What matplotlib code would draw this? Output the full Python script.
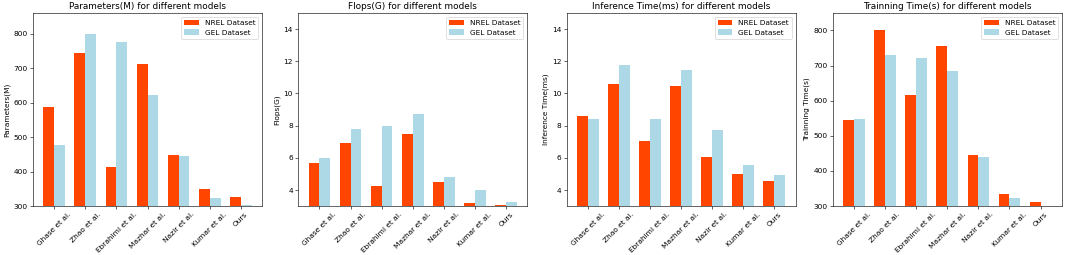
import numpy as np
import matplotlib
matplotlib.use('Agg')
import matplotlib.pyplot as plt

# 模型名稱
models = ['Ghase et al.', 'Zhao et al.', 'Ebrahimi et al.', 'Mazhar et al.',
          'Nazir et al.', 'Kumar et al.', 'Ours']

# 各指標數值 (NREL / GEL)
params_nrel = [587, 745, 414, 713, 447, 350, 325]
params_gel = [478, 798, 775, 622, 444, 322, 303]
flops_nrel = [5.69, 6.94, 4.25, 7.5, 4.48, 3.21, 3.04]
flops_gel = [5.96, 7.79, 7.98, 8.69, 4.81, 4.0, 3.25]
infer_nrel = [8.6, 10.58, 7.02, 10.48, 6.04, 5.0, 4.56]
infer_gel = [8.38, 11.75, 8.42, 11.46, 7.75, 5.52, 4.9]
train_nrel = [544, 800, 617, 757, 445, 335, 312]
train_gel = [547, 730, 722, 685, 439, 323, 300]

panels = [
    ('Parameters(M)', params_nrel, params_gel, (300, 860)),
    ('Flops(G)', flops_nrel, flops_gel, (3, 15)),
    ('Inference Time(ms)', infer_nrel, infer_gel, (3, 15)),
    ('Trainning Time(s)', train_nrel, train_gel, (300, 850)),
]

fig = plt.figure(figsize=(20, 4.79), dpi=53.25)
lefts = [0.031, 0.280, 0.532, 0.782]
width = 0.35
x = np.arange(len(models))

for left, (name, nrel, gel, ylim) in zip(lefts, panels):
    ax = fig.add_axes([left, 0.192, 0.215, 0.757])
    ax.bar(x - width / 2, nrel, width, label='NREL Dataset', color='orangered')
    ax.bar(x + width / 2, gel, width, label='GEL Dataset', color='lightblue')
    ax.set_ylim(*ylim)
    ax.set_xticks(x)
    ax.set_xticklabels(models, rotation=45)
    ax.set_ylabel(name)
    ax.set_title(name + ' for different models')
    ax.legend(loc='upper right')

fig.savefig('out.png', dpi=53.25)
